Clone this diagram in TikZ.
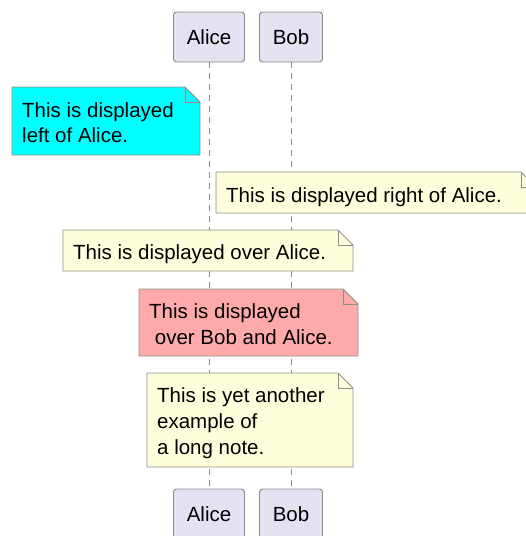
\documentclass[tikz,border=0pt]{standalone}
\usepackage{fontspec}
\setmainfont{Liberation Sans}
\definecolor{partfill}{HTML}{E2E2F0}
\definecolor{partdraw}{HTML}{8A8A8A}
\definecolor{notefill}{HTML}{FEFEDD}
\definecolor{notedraw}{HTML}{8E8E84}
\definecolor{cyanfill}{HTML}{00FFFF}
\definecolor{redfill}{HTML}{FFAAAA}
\definecolor{lifeline}{HTML}{8A8A8A}
\newcommand\foldnote[6]{% name, x1,y1,x2,y2, fill
  \draw[notedraw, line width=0.9pt, fill=#6] (#2,#3) -- (#4-15,#3) -- (#4,#3+15) -- (#4,#5) -- (#2,#5) -- cycle;
  \draw[notedraw, line width=0.9pt] (#4-15,#3) -- (#4-15,#3+15) -- (#4,#3+15);
  \coordinate (#1) at (#2,#3);
}
\begin{document}
\begin{tikzpicture}[x=1pt,y=-1pt,
  part/.style={draw=partdraw, fill=partfill, line width=0.9pt, rounded corners=3pt, minimum height=50pt, inner sep=0pt, font=\fontsize{20.5}{24}\selectfont},
  txt/.style={anchor=base west, inner sep=0pt, font=\fontsize{20.5}{24}\selectfont},
  life/.style={lifeline, line width=0.9pt, dash pattern=on 6pt off 5pt}]
\useasboundingbox (0,0) rectangle (526,536);
\coordinate (aTop) at (209,62);
\coordinate (aBot) at (209,489);
\coordinate (bTop) at (291,62);
\coordinate (bBot) at (291,489);
\draw[life] (aTop) -- (aBot);
\draw[life] (bTop) -- (bBot);
% notes
\foldnote{n1}{12}{87}{200}{155}{cyanfill}
\node[txt] (t1a) at (22,117) {This is displayed};
\node[txt] (t1b) at (22,142) {left of Alice.};
\foldnote{n2}{216}{172}{536}{213}{notefill}
\node[txt] (t2) at (226,202) {This is displayed right of Alice.};
\foldnote{n3}{63}{230}{353}{271}{notefill}
\node[txt] (t3) at (73,259) {This is displayed over Alice.};
\foldnote{n4}{139}{289}{358}{356}{redfill}
\node[txt] (t4a) at (149,318) {This is displayed};
\node[txt] (t4b) at (149,344) {\ over Bob and Alice.};
\foldnote{n5}{147}{373}{353}{467}{notefill}
\node[txt] (t5a) at (157,402) {This is yet another};
\node[txt] (t5b) at (157,428) {example of};
\node[txt] (t5c) at (157,454) {a long note.};
% participants
\node[part, minimum width=71pt] (alice) at (209,37) {Alice};
\node[part, minimum width=63pt] (bob) at (291,37) {Bob};
\node[part, minimum width=71pt] (alice2) at (209,514) {Alice};
\node[part, minimum width=63pt] (bob2) at (291,514) {Bob};
\end{tikzpicture}
\end{document}
